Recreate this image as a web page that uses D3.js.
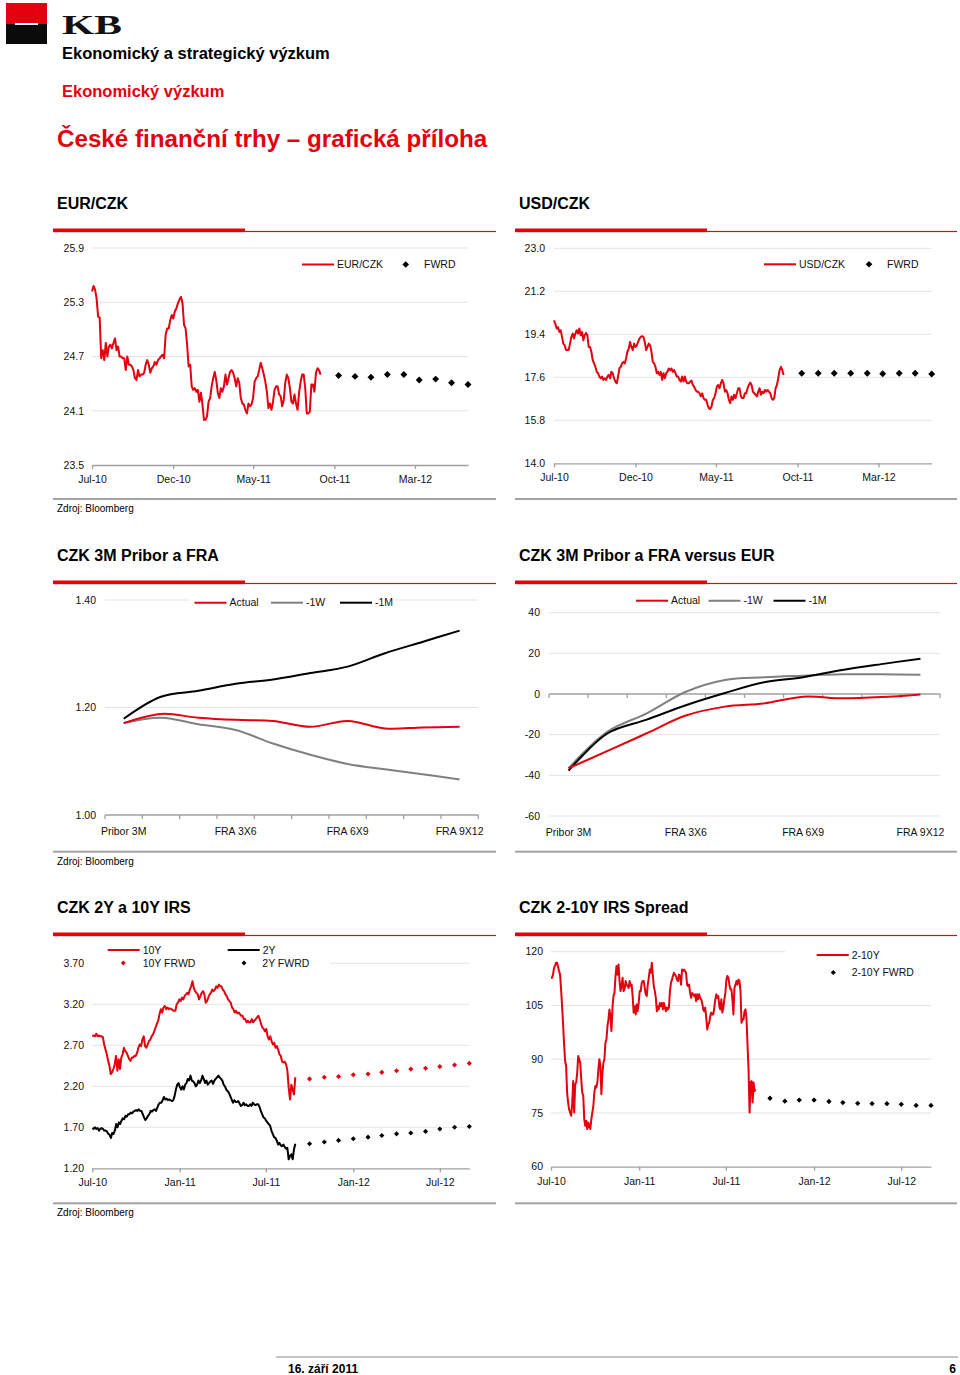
<!DOCTYPE html>
<html><head><meta charset="utf-8">
<script src="https://cdn.jsdelivr.net/npm/d3@7"></script>
<style>
body{margin:0;background:#fff}
svg text{font-family:"Liberation Sans",Arial,Helvetica,sans-serif;fill:#111}
</style></head>
<body><svg id="c" width="960" height="1375"></svg>
<script>
// ---------------- DATA ----------------
const histStart = "2010-07-01";
const fxHistEnd = "2011-09-05";
const fxAxisEnd = "2012-06-09";
const fxTicks = ["2010-07-01","2010-12-01","2011-05-01","2011-10-01","2012-03-01"];
const fxFwrdDates = ["2011-10-09","2011-11-09","2011-12-09","2012-01-09","2012-02-09","2012-03-09","2012-04-09","2012-05-09","2012-06-09"];

const eurTicks = [23.5,24.1,24.7,25.3,25.9];
const eurczk = [25.42,25.48,25.44,25.34,25.14,25.13,24.68,24.77,24.66,24.85,
24.70,24.81,24.83,24.79,24.85,24.90,24.77,24.81,24.70,24.70,
24.68,24.68,24.55,24.70,24.61,24.61,24.59,24.55,24.46,24.44,
24.55,24.48,24.50,24.50,24.52,24.61,24.66,24.61,24.52,24.57,
24.59,24.64,24.61,24.66,24.68,24.70,24.72,24.68,24.94,25.01,
25.01,25.10,25.16,25.12,25.20,25.23,25.29,25.33,25.36,25.29,
25.05,25.01,24.83,24.59,24.61,24.37,24.33,24.35,24.31,24.33,
24.20,24.30,24.17,24.00,24.00,24.04,24.20,24.24,24.37,24.46,
24.53,24.44,24.30,24.24,24.35,24.31,24.37,24.50,24.39,24.46,
24.53,24.55,24.52,24.46,24.37,24.46,24.41,24.24,24.18,24.17,
24.11,24.07,24.18,24.15,24.17,24.24,24.42,24.46,24.48,24.55,
24.63,24.57,24.50,24.42,24.31,24.13,24.18,24.11,24.20,24.33,
24.37,24.37,24.28,24.26,24.15,24.22,24.41,24.50,24.46,24.35,
24.20,24.18,24.28,24.18,24.11,24.30,24.42,24.50,24.50,24.35,
24.07,24.07,24.09,24.39,24.39,24.31,24.52,24.57,24.55,24.50];
const eurFwrd = [24.49,24.48,24.47,24.50,24.50,24.44,24.45,24.41,24.39];

const usdTicks = [14.0,15.8,17.6,19.4,21.2,23.0];
const usdczk = [19.98,19.84,19.64,19.70,19.50,19.57,19.29,19.01,18.94,18.74,
18.74,18.74,19.01,19.29,19.43,19.22,19.43,19.57,19.43,19.64,
19.36,19.50,19.15,19.36,19.46,19.36,18.87,18.87,18.67,18.32,
18.18,18.04,17.83,17.77,17.63,17.56,17.63,17.49,17.56,17.49,
17.63,17.70,17.56,17.83,17.77,17.56,17.42,17.35,17.63,17.97,
18.04,18.18,18.25,18.18,18.39,18.67,18.80,19.08,18.87,18.74,
19.01,18.87,18.94,19.08,19.22,19.29,19.32,19.29,19.08,18.74,
18.87,19.01,18.94,18.67,18.25,18.18,18.04,17.77,17.83,17.70,
17.83,17.49,17.77,17.56,17.77,17.83,17.97,17.90,17.97,17.83,
17.90,17.77,17.63,17.63,17.49,17.42,17.63,17.42,17.63,17.42,
17.35,17.35,17.42,17.46,17.28,17.21,17.07,17.00,17.00,16.93,
16.80,16.93,16.73,16.66,16.66,16.45,16.31,16.27,16.38,16.66,
16.73,16.93,17.21,17.28,17.14,17.35,17.49,17.35,17.00,17.07,
16.93,16.66,16.52,16.80,16.66,16.87,16.73,16.93,17.14,17.14,
16.80,16.73,16.73,16.93,16.93,17.14,17.28,17.38,17.28,17.00,
16.93,16.87,16.80,17.00,17.14,16.87,17.00,16.93,17.07,17.00,
17.07,17.00,16.93,16.73,16.66,16.73,17.14,17.28,17.56,17.90,
18.04,17.90,17.70];
const usdFwrd = [17.77,17.77,17.77,17.77,17.77,17.75,17.77,17.77,17.74];

const fraCats = ["Pribor 3M","FRA 1X4","FRA 2X5","FRA 3X6","FRA 4X7","FRA 5X8","FRA 6X9","FRA 7X10","FRA 8X11","FRA 9X12"];
const fraLabels = ["Pribor 3M","FRA 3X6","FRA 6X9","FRA 9X12"];
const czkTicks = [1.00,1.20,1.40];
const czkActual = [1.171,1.188,1.181,1.177,1.175,1.164,1.175,1.161,1.163,1.164];
const czk1W = [1.171,1.181,1.169,1.158,1.133,1.112,1.095,1.085,1.076,1.066];
const czk1M = [1.179,1.220,1.231,1.244,1.252,1.264,1.276,1.301,1.322,1.343];

const sprTicks = [-60,-40,-20,0,20,40];
const vsActual = [-36.5,-28.0,-19.3,-10.6,-6.2,-4.6,-1.3,-2.1,-1.5,-0.2];
const vs1W = [-36.5,-18.5,-9.5,1.1,6.9,8.2,9.0,9.7,9.7,9.5];
const vs1M = [-37.7,-19.3,-12.6,-5.5,0.5,5.8,8.3,11.8,14.7,17.4];

const irsHistEnd = "2011-09-01";
const irsAxisEnd = "2012-09-01";
const irsTicks = ["2010-07-01","2011-01-01","2011-07-01","2012-01-01","2012-07-01"];
const irsFwrdDates = ["2011-10-01","2011-11-01","2011-12-01","2012-01-01","2012-02-01","2012-03-01","2012-04-01","2012-05-01","2012-06-01","2012-07-01","2012-08-01","2012-09-01"];
const irsYTicks = [1.20,1.70,2.20,2.70,3.20,3.70];
const irs10y = [2.81,2.82,2.81,2.84,2.81,2.82,2.81,2.81,2.80,2.71,
2.65,2.59,2.51,2.45,2.35,2.37,2.41,2.47,2.57,2.39,
2.53,2.41,2.55,2.59,2.67,2.63,2.61,2.57,2.53,2.51,
2.55,2.55,2.57,2.57,2.61,2.67,2.71,2.69,2.77,2.81,
2.69,2.67,2.71,2.75,2.77,2.81,2.83,2.87,2.92,2.96,
3.00,3.08,3.14,3.10,3.16,3.18,3.14,3.16,3.14,3.15,
3.14,3.13,3.12,3.12,3.20,3.22,3.26,3.24,3.28,3.26,
3.30,3.32,3.34,3.32,3.38,3.42,3.48,3.40,3.36,3.34,
3.32,3.26,3.30,3.34,3.36,3.32,3.22,3.24,3.28,3.32,
3.34,3.38,3.36,3.38,3.42,3.40,3.44,3.42,3.42,3.38,
3.36,3.32,3.30,3.26,3.24,3.22,3.16,3.14,3.10,3.12,
3.09,3.10,3.08,3.06,3.06,3.02,3.02,2.98,3.00,2.98,
2.98,3.02,2.98,3.00,3.02,3.04,3.06,3.02,2.96,2.92,
2.90,2.87,2.90,2.81,2.77,2.81,2.75,2.71,2.73,2.67,
2.69,2.65,2.59,2.57,2.50,2.49,2.50,2.47,2.39,2.18,
2.04,2.22,2.16,2.10,2.31];
const irs2y = [1.69,1.68,1.70,1.68,1.69,1.66,1.68,1.69,1.68,1.66,
1.66,1.65,1.62,1.61,1.57,1.63,1.62,1.66,1.74,1.70,
1.76,1.74,1.78,1.81,1.80,1.84,1.83,1.86,1.86,1.88,
1.87,1.89,1.90,1.91,1.90,1.92,1.90,1.90,1.86,1.82,
1.79,1.81,1.84,1.86,1.90,1.89,1.91,1.92,1.90,1.94,
1.98,2.00,2.00,2.03,2.07,2.04,2.05,2.03,2.04,2.03,
2.02,2.03,2.08,2.16,2.22,2.24,2.19,2.16,2.20,2.16,
2.22,2.24,2.29,2.27,2.33,2.27,2.26,2.24,2.20,2.22,
2.27,2.24,2.27,2.33,2.29,2.24,2.27,2.22,2.24,2.26,
2.27,2.23,2.27,2.29,2.31,2.33,2.31,2.29,2.27,2.22,
2.20,2.16,2.14,2.12,2.08,2.04,2.00,2.03,2.01,2.01,
2.02,1.99,1.96,1.97,2.00,1.97,1.98,1.96,1.96,1.98,
1.96,2.00,1.98,1.97,1.98,1.98,1.95,1.90,1.86,1.82,
1.81,1.78,1.76,1.74,1.72,1.66,1.62,1.58,1.57,1.54,
1.49,1.51,1.48,1.47,1.49,1.46,1.44,1.45,1.31,1.35,
1.37,1.31,1.43,1.50];
const irs10yFwrd = [2.29,2.31,2.32,2.34,2.35,2.37,2.39,2.41,2.42,2.44,2.46,2.48];
const irs2yFwrd = [1.50,1.52,1.54,1.56,1.58,1.60,1.62,1.63,1.65,1.68,1.70,1.71];

const spreadYTicks = [60,75,90,105,120];
const spread = [112.7,112.7,113.6,115.5,116.1,116.9,116.9,115.8,114.6,113.6,
109.5,104.8,99.7,94.1,89.5,88.1,80.7,77.9,76.0,75.1,
74.2,77.4,83.9,75.1,83.0,83.5,86.2,90.9,90.0,89.0,
84.4,80.7,79.8,73.2,71.4,72.8,70.5,72.3,71.4,70.5,
73.2,75.1,77.0,80.7,82.5,82.1,83.5,87.2,90.0,88.1,
80.2,86.2,89.0,90.0,94.6,95.5,99.2,101.1,103.9,101.6,
97.9,104.4,107.6,108.5,113.2,116.0,113.6,116.4,111.8,109.0,
110.4,112.7,109.0,109.5,111.8,110.8,110.4,109.9,111.8,110.4,
110.8,107.6,103.0,104.8,102.5,105.3,103.4,105.7,109.0,109.0,
111.3,111.8,111.8,109.9,108.1,107.6,110.8,112.7,115.0,114.1,
116.9,113.6,110.4,109.0,107.1,103.4,104.8,103.9,105.7,104.8,
105.7,103.9,105.7,104.4,103.4,104.4,103.9,104.4,109.0,111.3,
112.2,113.2,114.1,113.6,113.2,112.2,111.8,113.6,113.2,110.8,
115.0,114.6,115.0,114.6,114.1,110.8,110.4,110.8,108.5,107.1,
108.5,108.1,107.6,108.1,106.2,108.1,106.7,108.1,107.1,106.7,
105.7,103.9,103.4,104.4,101.6,98.3,99.7,100.2,102.0,103.0,
102.5,102.5,104.4,106.7,108.1,107.1,107.6,104.8,103.9,106.7,
103.0,104.4,106.7,108.5,112.2,113.2,112.7,110.8,109.5,109.5,
106.7,102.5,109.9,110.8,111.8,110.8,112.2,111.8,109.0,100.2,
101.1,101.1,103.4,103.9,101.1,93.7,87.2,75.1,83.5,83.9,
77.9,83.5,81.1,81.6];
const spreadFwrd = [79.1,78.3,78.6,78.6,78.2,77.9,77.7,77.6,77.6,77.4,77.1,77.1];

// ---------------- DRAWING ----------------
const RED = "#e3000f", GRID = "#e4e4e4", AXIS = "#a0a0a0", GRAYLINE = "#808080";
const parse = d3.utcParse("%Y-%m-%d");
const fmtMonth = d3.utcFormat("%b-%y");
const svg = d3.select("#c");

// header
svg.append("rect").attr("x",6).attr("y",3).attr("width",41).attr("height",21).attr("fill",RED);
svg.append("rect").attr("x",6).attr("y",24).attr("width",41).attr("height",20).attr("fill","#0b0b0b");
svg.append("rect").attr("x",15).attr("y",23).attr("width",23).attr("height",2).attr("fill","#fff");
svg.append("text").attr("x",62).attr("y",33.5).style("font-family","'Liberation Serif','DejaVu Serif',serif")
  .attr("font-weight","bold").attr("font-size",28).attr("textLength",60).attr("lengthAdjust","spacingAndGlyphs").style("fill","#111").text("KB");
svg.append("text").attr("x",62).attr("y",59).attr("font-weight","bold").attr("font-size",16.5).style("fill","#000").text("Ekonomický a strategický výzkum");
svg.append("text").attr("x",62).attr("y",97).attr("font-weight","bold").attr("font-size",16.5).style("fill",RED).text("Ekonomický výzkum");
svg.append("text").attr("x",57).attr("y",147).attr("font-weight","bold").attr("font-size",24.2).style("fill",RED).text("České finanční trhy – grafická příloha");

// footer
svg.append("line").attr("x1",276).attr("x2",958).attr("y1",1357).attr("y2",1357).attr("stroke","#8a8a8a").attr("stroke-width",1.2);
svg.append("text").attr("x",288).attr("y",1373).attr("font-weight","bold").attr("font-size",12).style("fill","#000").text("16. září 2011");
svg.append("text").attr("x",956).attr("y",1373).attr("text-anchor","end").attr("font-weight","bold").attr("font-size",12).style("fill","#000").text("6");

function frame(x0, x1, title, base, sepY) {
  svg.append("text").attr("x",x0+4).attr("y",base).attr("font-weight","bold").attr("font-size",16).style("fill","#000").text(title);
  const uy = base + 19.5;
  svg.append("rect").attr("x",x0).attr("y",uy).attr("width",192).attr("height",3.6).attr("fill",RED);
  svg.append("rect").attr("x",x0).attr("y",uy+2.4).attr("width",x1-x0).attr("height",1.2).attr("fill",RED);
  svg.append("rect").attr("x",x0).attr("y",sepY-1).attr("width",x1-x0).attr("height",2).attr("fill","#a3a3a3");
}
function source(y) {
  svg.append("text").attr("x",57).attr("y",y).attr("font-size",10).style("fill","#000").text("Zdroj: Bloomberg");
}

frame(53,496,"EUR/CZK",209,499);
frame(515,957,"USD/CZK",209,499);
frame(53,496,"CZK 3M Pribor a FRA",561,851.7);
frame(515,957,"CZK 3M Pribor a FRA versus EUR",561,851.7);
frame(53,496,"CZK 2Y a 10Y IRS",913,1203.3);
frame(515,957,"CZK 2-10Y IRS Spread",913,1203.3);
source(512); source(865); source(1216);

function diamond(g, cx, cy, size, color) {
  g.append("path").attr("d", d3.symbol(d3.symbolSquare, size)())
    .attr("transform", `translate(${cx},${cy}) rotate(45)`).attr("fill", color);
}

function timeChart(o) {
  const g = svg.append("g");
  const x = d3.scaleUtc().domain([parse(o.start), parse(o.axisEnd)]).range([o.left, o.right]);
  const y = d3.scaleLinear().domain([o.yTicks[0], o.yTicks[o.yTicks.length-1]]).range([o.bottom, o.top]);
  g.selectAll("line.grid").data(o.yTicks.slice(1)).join("line").attr("class","grid")
    .attr("x1", d => (d === o.yTicks[o.yTicks.length-1] && o.topGridFrom) ? o.topGridFrom : o.left)
    .attr("x2", d => (d === o.yTicks[o.yTicks.length-1] && o.topGridTo) ? o.topGridTo : o.right)
    .attr("y1", d => y(d)).attr("y2", d => y(d)).attr("stroke", GRID).attr("stroke-width",1);
  g.selectAll("text.yl").data(o.yTicks).join("text").attr("class","yl")
    .attr("x", o.labelX).attr("y", d => y(d)).attr("dy","0.36em").attr("text-anchor","end")
    .attr("font-size",10.5).text(o.yFmt);
  const ax = d3.axisBottom(x).tickValues(o.xTicks.map(parse)).tickFormat(fmtMonth)
    .tickSize(4).tickSizeOuter(0).tickPadding(6.5);
  const axg = g.append("g").attr("transform",`translate(0,${o.bottom})`).call(ax);
  axg.select(".domain").attr("stroke", AXIS).attr("stroke-width",1.3);
  axg.selectAll(".tick line").attr("stroke", AXIS).attr("stroke-width",1.3);
  axg.selectAll(".tick text").attr("font-size",10.5).style("fill","#111").attr("font-family",null);
  const t0 = parse(o.start).getTime();
  o.series.forEach(s => {
    const t1 = parse(s.end).getTime();
    const n = s.values.length;
    const pts = s.values.map((v,i) => ({t: new Date(t0 + (t1 - t0) * i / (n - 1)), v}));
    g.append("path").datum(pts).attr("fill","none").attr("stroke", s.color).attr("stroke-width", 2)
      .attr("stroke-linejoin","round")
      .attr("d", d3.line().x(d => x(d.t)).y(d => y(d.v)));
  });
  o.fwrd.forEach(f => {
    f.values.forEach((v,i) => diamond(g, x(parse(f.dates[i])), y(v), f.size, f.color));
  });
  return g;
}

function legendBg(g, x, y, w, h) {
  g.append("rect").attr("x",x).attr("y",y).attr("width",w).attr("height",h).attr("fill","#fff");
}
function legendLine(g, x, y, color, label) {
  g.append("line").attr("x1",x).attr("x2",x+32).attr("y1",y).attr("y2",y).attr("stroke",color).attr("stroke-width",2);
  g.append("text").attr("x",x+35).attr("y",y).attr("dy","0.36em").attr("font-size",10.5).text(label);
}
function legendDot(g, x, y, color, size, tx, label) {
  diamond(g, x, y, size, color);
  g.append("text").attr("x",tx).attr("y",y).attr("dy","0.36em").attr("font-size",10.5).text(label);
}

// EUR/CZK
const c1 = timeChart({left:92,right:468,top:248,bottom:465,labelX:84,yTicks:eurTicks,yFmt:d3.format(".1f"),
  start:histStart,axisEnd:fxAxisEnd,xTicks:fxTicks,
  series:[{values:eurczk,end:fxHistEnd,color:RED}],
  fwrd:[{dates:fxFwrdDates,values:eurFwrd,color:"#000",size:24}]});
legendLine(c1,302,264.5,RED,"EUR/CZK");
legendDot(c1,405.7,264.5,"#000",22,424,"FWRD");

// USD/CZK
const c2 = timeChart({left:554,right:931.7,top:248.3,bottom:463.3,labelX:545,yTicks:usdTicks,yFmt:d3.format(".1f"),
  start:histStart,axisEnd:fxAxisEnd,xTicks:fxTicks,
  series:[{values:usdczk,end:fxHistEnd,color:RED}],
  fwrd:[{dates:fxFwrdDates,values:usdFwrd,color:"#000",size:24}]});
legendLine(c2,764,264.3,RED,"USD/CZK");
legendDot(c2,869,264.3,"#000",22,887,"FWRD");

// Category charts
function catChart(o) {
  const g = svg.append("g");
  const xb = d3.scaleBand().domain(fraCats).range([o.left, o.right]).padding(0);
  const xc = c => xb(c) + xb.bandwidth()/2;
  const y = d3.scaleLinear().domain([o.yTicks[0], o.yTicks[o.yTicks.length-1]]).range([o.bottom, o.top]);
  g.selectAll("line.grid").data(o.yTicks.filter(v => v !== o.axisAt)).join("line")
    .attr("x1",o.left).attr("x2",o.right).attr("y1",d=>y(d)).attr("y2",d=>y(d)).attr("stroke",GRID);
  g.selectAll("text.yl").data(o.yTicks).join("text").attr("class","yl")
    .attr("x",o.labelX).attr("y",d=>y(d)).attr("dy","0.36em").attr("text-anchor","end").attr("font-size",10.5).text(o.yFmt);
  const ay = y(o.axisAt);
  g.append("line").attr("x1",o.left).attr("x2",o.right).attr("y1",ay).attr("y2",ay).attr("stroke",AXIS).attr("stroke-width",1.3);
  const bounds = fraCats.map(c => xb(c)).concat([o.right]);
  g.selectAll("line.tk").data(bounds).join("line").attr("x1",d=>d).attr("x2",d=>d).attr("y1",ay).attr("y2",ay+4)
    .attr("stroke",AXIS).attr("stroke-width",1.3);
  g.selectAll("text.xl").data(fraLabels).join("text").attr("x",d=>xc(d)).attr("y",o.labelY)
    .attr("text-anchor","middle").attr("font-size",10.5).text(d=>d);
  const line = d3.line().x((d,i)=>xc(fraCats[i])).y(d=>y(d)).curve(d3.curveCatmullRom.alpha(0.5));
  o.series.forEach(s => g.append("path").datum(s.values).attr("fill","none").attr("stroke",s.color)
    .attr("stroke-width",2).attr("d",line));
  return g;
}

const c3 = catChart({left:105,right:478.3,top:600,bottom:815,labelX:96,yTicks:czkTicks,yFmt:d3.format(".2f"),
  axisAt:1.00,labelY:835,
  series:[{values:czk1W,color:GRAYLINE},{values:czk1M,color:"#000"},{values:czkActual,color:RED}]});
legendBg(c3,190,595,205,14);
legendLine(c3,194.5,602.7,RED,"Actual");
legendLine(c3,271,602.7,GRAYLINE,"-1W");
legendLine(c3,340,602.7,"#000","-1M");

const c4 = catChart({left:549,right:940,top:612.7,bottom:816,labelX:540,yTicks:sprTicks,yFmt:d => String(d),
  axisAt:0,labelY:835.5,
  series:[{values:vs1W,color:GRAYLINE},{values:vs1M,color:"#000"},{values:vsActual,color:RED}]});
legendLine(c4,636,600.7,RED,"Actual");
legendLine(c4,708.5,600.7,GRAYLINE,"-1W");
legendLine(c4,773.5,600.7,"#000","-1M");

// IRS
const c5 = timeChart({left:92.3,right:469.3,top:963.3,bottom:1168.3,labelX:84,yTicks:irsYTicks,yFmt:d3.format(".2f"),
  start:histStart,axisEnd:irsAxisEnd,xTicks:irsTicks,topGridFrom:330,
  series:[{values:irs10y,end:irsHistEnd,color:RED},{values:irs2y,end:irsHistEnd,color:"#000"}],
  fwrd:[{dates:irsFwrdDates,values:irs10yFwrd,color:RED,size:13},{dates:irsFwrdDates,values:irs2yFwrd,color:"#000",size:13}]});
legendLine(c5,107.7,950,RED,"10Y");
legendDot(c5,123.3,963,RED,12,142.7,"10Y FRWD");
legendLine(c5,227.7,950,"#000","2Y");
legendDot(c5,244,963,"#000",12,262.3,"2Y FWRD");

// Spread
const c6 = timeChart({left:551,right:931,top:951.7,bottom:1166.7,labelX:543,yTicks:spreadYTicks,yFmt:d => String(d),
  start:histStart,axisEnd:irsAxisEnd,xTicks:irsTicks,topGridTo:785,
  series:[{values:spread,end:irsHistEnd,color:RED}],
  fwrd:[{dates:irsFwrdDates,values:spreadFwrd,color:"#000",size:14}]});
legendLine(c6,816.7,955,RED,"2-10Y");
legendDot(c6,833.3,972.5,"#000",13,851.7,"2-10Y FWRD");
</script></body></html>
